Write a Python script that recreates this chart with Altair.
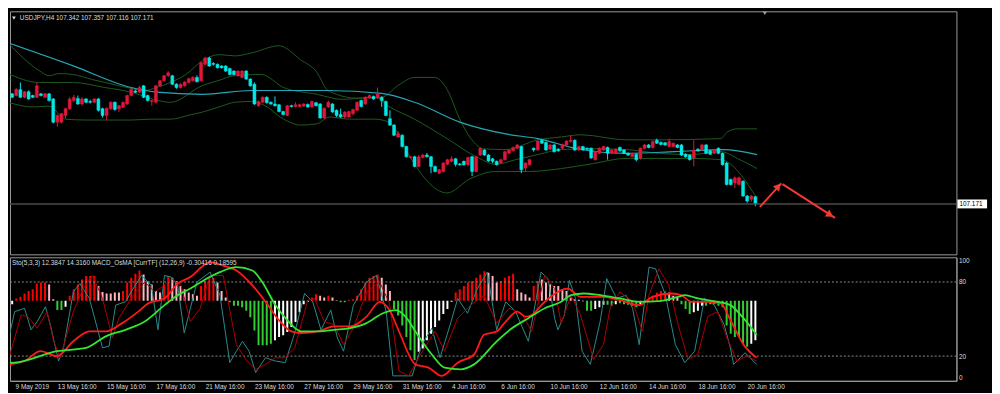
import altair as alt
import pandas as pd

# ---------------- data ----------------
title_main = "USDJPY,H4 107.342 107.357 107.116 107.171"
title_sub = "Sto(5,3,3) 12.3847 14.3160  MACD_OsMA [CurrTF] (12,26,9) -0.30416 0.18595"
last_close = 107.171

price_ticks = [111.62, 111.02, 110.42, 109.82, 109.22, 108.61, 108.01, 107.41, 106.81, 106.21]
sub_ticks = [0, 20, 80, 100]
date_idx = [1.7, 12, 24, 36, 48, 60, 72, 84, 96, 108, 120, 132, 144, 156, 168, 180]
date_lbl = ["9 May 2019", "13 May 16:00", "15 May 16:00", "17 May 16:00", "21 May 16:00",
            "23 May 16:00", "27 May 16:00", "29 May 16:00", "31 May 16:00", "4 Jun 16:00",
            "6 Jun 16:00", "10 Jun 16:00", "12 Jun 16:00", "14 Jun 16:00", "18 Jun 16:00",
            "20 Jun 16:00"]

opens = [
109.74,109.78,109.74,109.88,109.70,109.83,109.74,109.70,109.78,109.70,
109.78,109.66,109.11,109.11,109.27,109.43,109.62,109.67,109.54,109.66,
109.60,109.58,109.66,109.43,109.27,109.43,109.58,109.43,109.46,109.54,
109.74,109.85,109.82,109.97,109.74,109.60,109.58,109.97,110.09,110.21,
110.21,110.01,109.93,109.97,110.05,110.09,110.17,110.09,110.48,110.63,
110.50,110.48,110.44,110.44,110.38,110.32,110.21,110.17,110.32,110.13,
110.01,109.50,109.58,109.70,109.58,109.54,109.52,109.36,109.27,109.50,
109.48,109.48,109.49,109.53,109.47,109.57,109.54,109.21,109.47,109.54,
109.39,109.29,109.23,109.23,109.31,109.39,109.62,109.54,109.68,109.72,
109.68,109.70,109.60,109.19,109.04,108.76,108.80,108.53,108.27,108.29,
108.06,108.27,108.33,108.29,108.06,107.90,107.94,108.11,108.18,108.24,
108.12,108.18,108.10,108.29,107.94,108.33,108.45,108.33,108.24,108.18,
108.14,108.22,108.37,108.43,108.49,108.53,108.02,108.10,108.49,108.45,
108.68,108.63,108.47,108.57,108.47,108.49,108.57,108.65,108.68,108.45,
108.53,108.49,108.49,108.22,108.37,108.45,108.51,108.37,108.37,108.51,
108.45,108.37,108.29,108.35,108.26,108.49,108.57,108.51,108.68,108.63,
108.62,108.53,108.53,108.57,108.57,108.35,108.33,108.26,108.47,108.45,
108.57,108.43,108.37,108.49,108.37,108.14,107.75,107.67,107.63,107.71,
107.36,107.28,107.342]

closes = [
109.82,109.70,109.89,109.70,109.83,109.66,109.70,109.97,109.74,109.78,
109.62,109.11,109.27,109.31,109.43,109.66,109.70,109.54,109.66,109.58,
109.58,109.66,109.39,109.27,109.44,109.58,109.41,109.50,109.58,109.74,
109.89,109.82,109.93,109.70,109.62,109.62,109.97,110.09,110.21,110.28,
110.01,109.93,110.01,110.06,110.14,110.17,110.07,110.52,110.63,110.44,
110.48,110.40,110.40,110.32,110.24,110.24,110.32,110.32,110.13,109.97,
109.54,109.60,109.70,109.57,109.54,109.50,109.36,109.29,109.50,109.48,
109.52,109.52,109.54,109.47,109.60,109.50,109.21,109.44,109.58,109.35,
109.27,109.23,109.35,109.36,109.41,109.58,109.48,109.70,109.74,109.66,
109.78,109.62,109.27,109.04,108.80,108.84,108.53,108.29,108.29,108.06,
108.29,108.33,108.29,108.06,107.94,107.98,108.14,108.22,108.24,108.11,
108.10,108.10,108.27,107.94,108.29,108.49,108.33,108.19,108.18,108.10,
108.22,108.41,108.45,108.51,108.57,107.98,108.14,108.22,108.45,108.66,
108.61,108.45,108.57,108.41,108.43,108.58,108.66,108.68,108.45,108.53,
108.45,108.47,108.26,108.41,108.49,108.53,108.37,108.45,108.47,108.43,
108.37,108.33,108.37,108.22,108.49,108.57,108.51,108.65,108.61,108.58,
108.57,108.65,108.61,108.51,108.33,108.29,108.22,108.45,108.43,108.57,
108.37,108.35,108.45,108.37,108.10,107.63,107.63,107.79,107.79,107.36,
107.24,107.36,107.171]

highs = [
109.84,109.80,109.91,110.05,109.85,109.86,109.76,110.05,109.80,109.80,
109.80,109.68,109.29,109.33,109.45,109.70,109.76,109.74,109.70,109.68,
109.64,109.68,109.68,109.45,109.46,109.60,109.60,109.52,109.60,109.76,
109.92,109.88,109.97,109.99,109.76,109.64,109.99,110.11,110.23,110.32,
110.23,110.03,110.03,110.08,110.16,110.20,110.22,110.54,110.66,110.66,
110.53,110.50,110.46,110.46,110.40,110.34,110.34,110.34,110.34,110.15,
110.05,109.62,109.72,109.72,109.60,109.72,109.54,109.38,109.52,109.52,
109.58,109.54,109.56,109.55,109.62,109.59,109.56,109.46,109.62,109.56,
109.41,109.43,109.37,109.38,109.43,109.60,109.64,109.72,109.76,109.74,
109.93,109.72,109.62,109.39,109.06,108.90,108.82,108.55,108.31,108.31,
108.33,108.36,108.38,108.31,108.08,108.00,108.16,108.24,108.30,108.26,
108.14,108.20,108.29,108.31,108.31,108.51,108.47,108.35,108.26,108.20,
108.24,108.43,108.47,108.53,108.59,108.55,108.16,108.24,108.51,108.68,
108.70,108.65,108.59,108.59,108.49,108.60,108.68,108.80,108.70,108.55,
108.55,108.51,108.51,108.43,108.51,108.55,108.53,108.47,108.49,108.53,
108.47,108.39,108.39,108.37,108.51,108.59,108.59,108.67,108.72,108.65,
108.64,108.72,108.63,108.59,108.59,108.37,108.35,108.68,108.49,108.59,
108.59,108.45,108.47,108.51,108.39,108.16,107.77,107.82,107.82,107.73,
107.38,107.38,107.357]

lows = [
109.72,109.68,109.72,109.68,109.68,109.64,109.68,109.68,109.72,109.68,
109.60,109.08,109.00,109.08,109.20,109.40,109.58,109.52,109.50,109.56,
109.55,109.56,109.36,109.22,109.15,109.40,109.38,109.35,109.44,109.52,
109.72,109.80,109.80,109.68,109.60,109.50,109.55,109.95,110.07,110.19,
109.99,109.90,109.91,109.95,110.03,110.07,110.05,110.07,110.46,110.42,
110.45,110.38,110.38,110.30,110.22,110.22,110.19,110.15,110.11,109.95,
109.52,109.48,109.56,109.55,109.52,109.48,109.34,109.27,109.25,109.46,
109.46,109.46,109.47,109.45,109.45,109.48,109.19,109.19,109.45,109.33,
109.23,109.21,109.19,109.21,109.27,109.37,109.46,109.52,109.66,109.64,
109.66,109.47,109.25,109.02,108.78,108.74,108.51,108.27,108.25,108.04,
108.04,108.25,108.27,107.90,107.92,107.88,107.92,108.09,108.16,108.06,
108.08,108.08,108.06,107.83,107.92,108.31,108.31,108.17,108.14,108.08,
108.12,108.20,108.35,108.41,108.47,107.90,107.94,108.08,108.41,108.43,
108.59,108.43,108.45,108.39,108.41,108.47,108.55,108.63,108.43,108.43,
108.43,108.45,108.24,108.20,108.35,108.43,108.22,108.35,108.35,108.41,
108.35,108.31,108.27,108.18,108.22,108.47,108.49,108.49,108.59,108.56,
108.55,108.51,108.51,108.49,108.31,108.27,108.20,108.06,108.41,108.43,
108.35,108.33,108.35,108.35,108.08,107.61,107.61,107.55,107.61,107.34,
107.20,107.22,107.116]

# moving average (cyan) and Bollinger bands (dark green): bar index, price
ma_i = [0, 15.7, 30, 36.2, 47.4, 59.3, 77.6, 91, 99, 110, 121.2, 129, 138.6, 150.5, 162.4, 174.3, 182.4]
ma_v = [110.99, 110.45, 109.93, 109.82, 109.77, 109.86, 109.86, 109.79, 109.58, 109.11, 108.83,
        108.72, 108.48, 108.37, 108.41, 108.46, 108.34]

bb_up_i = [0, 7.6, 10, 12.4, 15.7, 20.5, 23.6, 30, 33.1, 36.2, 39.5, 43.3, 47.4, 51.4, 55.2, 59.3,
           66, 71.2, 75.2, 77.6, 80, 84.8, 91, 95, 99, 103.8, 106.9, 110, 113.3, 115.7, 121.2, 129,
           134.8, 139.5, 150.5, 158.6, 173.6, 175.2, 177.6, 182.4]
bb_up_v = [110.99, 110.33, 110.21, 110.26, 110.24, 110.12, 110.05, 109.91, 109.86, 109.93, 110.05,
           110.24, 110.57, 110.71, 110.68, 110.75, 110.92, 110.59, 110.29, 109.89, 109.77, 109.68,
           109.70, 109.98, 110.17, 110.17, 109.89, 109.18, 108.65, 108.48, 108.46, 108.69, 108.76,
           108.81, 108.69, 108.69, 108.72, 108.88, 108.95, 108.95]
bb_mid_i = [0, 7.6, 15.7, 23.6, 30, 36.2, 39.5, 47.4, 51.4, 55, 61.7, 67.1, 75.2, 81.4, 89.5, 92.6,
            99, 106.9, 114, 118.8, 123.6, 129, 134.8, 142.6, 150.5, 158.6, 166.4, 173.6, 177.6, 182.4]
bb_mid_v = [110.26, 110.05, 110.05, 109.93, 109.82, 109.63, 109.58, 109.98, 110.10, 110.21, 110.24,
            109.93, 109.77, 109.65, 109.70, 109.49, 109.18, 108.72, 108.29, 108.11, 108.22, 108.34,
            108.46, 108.48, 108.46, 108.37, 108.34, 108.41, 108.25, 108.01]
bb_lo_i = [0, 6, 10, 14, 18.8, 23.6, 30, 34.8, 39.5, 44.3, 47.4, 51.4, 55.2, 59.3, 62.4, 67.1, 71.2,
           75.2, 78.3, 83.1, 89.5, 92.6, 99, 102.1, 106.9, 112.4, 118.8, 126.7, 134.8, 142.6, 150.5,
           158.6, 166.4, 173.6, 182.4]
bb_lo_v = [109.58, 109.47, 109.49, 109.18, 109.16, 109.16, 109.16, 109.18, 109.18, 109.28, 109.35,
           109.47, 109.58, 109.60, 109.51, 109.18, 109.04, 109.07, 109.23, 109.18, 109.18, 109.11,
           108.11, 107.71, 107.43, 107.76, 107.94, 107.94, 108.01, 108.13, 108.25, 108.25, 108.25,
           108.22, 107.30]

# hand-drawn arrows (bar index, price)
arrow1_i = [183.1, 188.3]
arrow1_p = [107.10, 107.66]
arrow2_i = [188.6, 201.4]
arrow2_p = [107.64, 106.84]
head_i = [187.6, 200.2]
head_p = [107.59, 106.91]
head_a = [42, 122]

# OsMA histogram, one value per bar, with its colour code
hist_v = [
-0.017,-0.017,0.012,0.020,0.037,0.050,0.058,0.087,0.092,0.092,
0.083,0.008,-0.047,-0.047,-0.030,0.025,0.058,0.083,0.108,0.125,
0.125,0.125,0.075,0.045,0.037,0.037,0.042,0.042,0.050,0.092,
0.117,0.137,0.153,0.133,0.100,0.083,0.050,0.042,0.083,0.125,
0.117,0.100,0.075,0.058,0.042,0.033,0.025,0.075,0.100,0.117,
0.117,0.092,0.050,0.017,-0.008,-0.025,-0.025,-0.033,-0.050,-0.083,
-0.150,-0.225,-0.225,-0.225,-0.217,-0.200,-0.183,-0.175,-0.158,-0.133,
-0.108,-0.058,-0.017,-0.005,0.017,0.033,0.025,0.017,0.025,0.017,
0.003,-0.008,-0.008,0.005,0.008,0.025,0.058,0.092,0.117,0.125,
0.133,0.117,0.083,0.050,-0.042,-0.075,-0.125,-0.183,-0.250,-0.300,
-0.258,-0.242,-0.200,-0.167,-0.133,-0.100,-0.067,-0.042,-0.005,0.042,
0.058,0.075,0.092,0.100,0.117,0.133,0.150,0.142,0.125,0.092,
0.100,0.117,0.125,0.137,0.058,0.042,0.033,0.017,0.075,0.100,
0.108,0.092,0.083,0.075,0.075,0.058,0.050,0.017,0.008,0.005,
-0.003,-0.050,-0.050,-0.042,-0.033,-0.020,-0.020,-0.025,-0.017,-0.013,
-0.017,-0.020,-0.025,-0.033,-0.017,-0.008,0.008,0.025,0.042,0.050,
0.050,0.042,0.025,0.017,-0.017,-0.042,-0.067,-0.058,-0.050,-0.025,
-0.025,-0.017,-0.017,-0.025,-0.033,-0.125,-0.167,-0.183,-0.183,-0.217,
-0.233,-0.217,-0.200]
hist_c = list(
    "WWRRRRRRRR" "PPGGWRRRRR" "RRPPPPPPRR" "RRRPPPPPRR" "PPPPPPPRRR"
    "RPPPGGGGGG" "GGGGGWWWWW" "WWWWRRPPRP" "PGGRRRRRRR" "RPPPGGGGGG"
    "WWWWWWWWWR" "RRRRRRRPPP" "RRRRPPPPRR" "PPPPPPPPPW" "WGGWWWGGWG"
    "GGGGWWRRRR" "RPPPGGGWWW" "GGGGGGGGGG" "GWW")

# stochastic main (teal) and signal (dark red): bar index, value 0..100
k_i = [0, 1.6, 4, 5.6, 7.1, 9.1, 10.3, 12.3, 13.5, 15.9, 17.5, 19.8, 23, 24.6, 26.2, 28.6, 30.2,
       32.5, 34.9, 36.5, 38.1, 39.7, 41.3, 42.9, 44.4, 46, 49.2, 51.6, 54, 55.6, 57.1, 58.7, 60.3,
       62.7, 65.1, 67.5, 69.8, 72.2, 74.2, 76.2, 78.6, 80.2, 81.7, 84.1, 87.3, 89.7, 92.1, 93.7, 96,
       98.4, 100.8, 103.2, 105.2, 107.9, 109.5, 111.9, 114.3, 116.7, 119, 121.2, 123.6, 126.7,
       129.8, 131.5, 133.1, 133.9, 135.5, 136.7, 138.2, 139.8, 141.8, 144.2, 145.8, 148.2, 150.5,
       152.1, 153.7, 156.1, 157.7, 160.1, 162.5, 164.8, 167.2, 169.6, 172, 174.4, 175.9, 176.7,
       179.5, 182.3]
k_v = [32, 56, 58.7, 41.3, 48, 60, 45.3, 16, 26.7, 72, 78.7, 66.7, 26.7, 28, 61.3, 64, 73.3, 85.3,
       77.3, 41.3, 85.3, 84, 77.3, 38.7, 58.7, 80, 88, 69.3, 14.7, 24, 32, 24, 6.7, 18.7, 16, 14.7,
       38.7, 70.7, 64, 41.3, 57.3, 34.7, 24, 61.3, 80, 85.3, 56, 4, 4, 4, 29.3, 42.7, 18.7, 48, 66.7,
       54.7, 74.7, 88, 41.3, 64, 56, 32, 88, 82.7, 50.7, 41.3, 53.3, 81.3, 66.7, 24, 13.3, 48, 82.7,
       66.7, 69.3, 58.7, 29.3, 92, 90.7, 69.3, 29.3, 14.7, 24, 66.7, 61.3, 45.3, 26.7, 13.3, 22.7,
       13.3]
d_i = [0, 3.2, 4.8, 7.1, 9.5, 11.1, 12.7, 15.9, 18.3, 20.6, 23, 25.4, 27, 30.2, 33.3, 35.7, 38.1,
       39.7, 42.1, 44.4, 46.8, 49.2, 52.4, 55.6, 57.9, 60.3, 62.7, 65.1, 67.5, 69.8, 73, 74.6, 77,
       79.4, 81.7, 84.1, 87.3, 90.5, 92.9, 95.2, 97.6, 100, 102.4, 104, 106.3, 109.5, 112.7, 115.9,
       119, 122, 125.1, 127.5, 130.7, 133.1, 134.7, 137.1, 139.4, 142.6, 145, 146.6, 149, 152.1,
       154.5, 156.1, 158.5, 160.9, 163.2, 165.6, 168, 170.4, 172.8, 175.1, 177.5, 179.9, 182.3]
d_v = [16, 53.3, 52, 42.7, 56, 32, 18.7, 56, 74.7, 85.3, 66.7, 34.7, 50.7, 68, 80, 72, 77.3, 82.7,
       77.3, 48, 58.7, 85.3, 85.3, 29.3, 17.3, 9.3, 13.3, 18.7, 18.7, 26.7, 65.3, 66.7, 48, 45.3,
       29.3, 42.7, 72, 80, 62.7, 8, 4, 18.7, 32, 40, 24, 50.7, 61.3, 69.3, 46.7, 58.7, 54.7, 40,
       85.3, 74.7, 46.7, 69.3, 53.3, 17.3, 29.3, 58.7, 72, 64, 40, 69.3, 90.7, 77.3, 45.3, 17.3,
       21.3, 52, 56, 34.7, 16, 20, 16]
# thick smoothed lines (red, green)
red_i = [0, 4, 7.9, 11.9, 15.9, 19.8, 23.8, 27.8, 31.7, 34.1, 38.1, 41.3, 44.4, 47.6, 49.2, 52.4,
         55.6, 59.5, 62.7, 65.9, 69, 71.4, 75.4, 79.4, 83.3, 87.3, 90.5, 92.9, 95.2, 99.2, 102.4,
         105.6, 109.5, 113.5, 115.9, 119, 121.2, 124, 126, 127.5, 130.7, 136.3, 139.4, 145, 149,
         153.7, 156.9, 161.7, 164, 166.4, 170.4, 173.6, 175.9, 179.1, 182.3]
red_v = [13.3, 16, 24, 20, 32, 40, 40, 46.7, 56, 62.7, 66.7, 78.7, 84, 93.3, 96, 93.3, 89.3, 77.3,
         64, 49.3, 40, 38.7, 40, 44, 44, 52, 64, 57.3, 40, 13.3, 10.7, 4, 14.7, 21.3, 37.3, 40, 48,
         56, 52, 53.3, 64, 74.7, 68, 68, 65.3, 61.3, 68, 70.7, 69.3, 64, 64, 62.7, 49.3, 29.3, 18.7]
green_i = [0, 1.6, 11.9, 19, 23.8, 28.6, 33.3, 38.1, 41.3, 44.4, 47.6, 51.6, 55.6, 59.5, 61.9, 65.1,
           68.3, 71.4, 75.4, 79.4, 83.3, 87.3, 91.3, 94.4, 96.8, 99.2, 103.2, 106.3, 110.3, 113.5,
           119, 122.8, 126.7, 130.7, 134.7, 137.1, 140.2, 144.2, 149, 153.7, 158.5, 163.2, 164.8,
           168, 172.8, 175.9, 179.1, 182.3]
green_v = [14.5, 14.7, 24, 26.7, 36, 41.3, 48, 61.3, 69.3, 74.7, 81.3, 88, 92, 89.3, 80, 61.3, 48,
           40, 40, 41.3, 42.7, 46.7, 54.7, 57.3, 52, 40, 21.3, 10.7, 9.3, 13.3, 32, 42.7, 50.7,
           58.7, 64, 69.3, 70.7, 69.3, 66.7, 64, 64.5, 68, 69.3, 66.7, 64, 61.3, 50.7, 37.3]

n = len(opens)
assert len(closes) == n and len(highs) == n and len(lows) == n
assert len(hist_v) == n and len(hist_c) == n

# ---------------- style ----------------
FONT = "Liberation Sans"
FS = 6.5
TXT = "#dcdcdc"
GRID = "#9a9a9a"
BULL = "#e0173c"
BEAR = "#00e8e8"
BAND = "#1f5a1f"
MA = "#25a7b4"

W = 958
HM = 246
HS = 125
XD = [1.667, 229.76]
PD = [105.976, 111.737]

xs = alt.Scale(domain=XD, nice=False, zero=False)
ps = alt.Scale(domain=PD, nice=False, zero=False)
ss = alt.Scale(domain=[0, 100], nice=False, zero=False)
hs = alt.Scale(domain=[-0.405, 0.22], nice=False, zero=False)
X = alt.X("i:Q", scale=xs, axis=None)

label_expr = "[" + ",".join("'" + s + "'" for s in date_lbl) + "][round(datum.value / 12)]"
date_axis = alt.Axis(values=date_idx, labelExpr=label_expr, labelAlign="left",
                     labelBaseline="top", labelColor=TXT, labelFont=FONT, labelFontSize=FS,
                     ticks=False, labelPadding=3, domainColor=GRID, grid=False, title=None,
                     labelOverlap=False, labelBound=False, labelFlush=False)
XS = alt.X("i:Q", scale=xs, axis=date_axis)


def series(idx, vals, color, width, scale, interp="monotone", xenc=X):
    df = pd.DataFrame({"i": idx, "v": vals})
    return alt.Chart(df).mark_line(clip=True, color=color, strokeWidth=width,
                                   interpolate=interp).encode(
        x=xenc, y=alt.Y("v:Q", scale=scale, axis=None))


# ---------------- main panel ----------------
cdf = pd.DataFrame({"i": list(range(n)), "o": opens, "h": highs, "l": lows, "c": closes})
cdf["d"] = ["up" if c >= o else "dn" for o, c in zip(opens, closes)]
ccol = alt.Scale(domain=["up", "dn"], range=[BULL, BEAR])

price_axis = alt.Axis(orient="right", values=price_ticks, format=".3f", labelColor=TXT,
                      labelFont=FONT, labelFontSize=FS, tickColor=GRID, tickSize=3,
                      domainColor=GRID, labelPadding=1, grid=False, title=None,
                      labelFlush=False, labelOverlap=False)

wicks = alt.Chart(cdf).mark_rule(clip=True, strokeWidth=1).encode(
    x=X, y=alt.Y("l:Q", scale=ps, axis=price_axis), y2="h:Q",
    color=alt.Color("d:N", scale=ccol, legend=None))
bodies = alt.Chart(cdf).mark_bar(clip=True, size=3, strokeWidth=0.5).encode(
    x=X, y=alt.Y("o:Q", scale=ps, axis=None), y2="c:Q",
    color=alt.Color("d:N", scale=ccol, legend=None),
    stroke=alt.Stroke("d:N", scale=ccol, legend=None))

pdf = pd.DataFrame({"p": [last_close], "t": [f"{last_close:.3f}"]})
pline = alt.Chart(pdf).mark_rule(color="#4a4a4a", strokeWidth=1.5).encode(
    y=alt.Y("p:Q", scale=ps, axis=None))
pbox = alt.Chart(pdf).mark_rule(color="#ffffff", strokeWidth=9).encode(
    y=alt.Y("p:Q", scale=ps, axis=None), x=alt.value(W + 1), x2=alt.value(W + 31))
ptext = alt.Chart(pdf).mark_text(align="left", baseline="middle", color="#000000",
                                 font=FONT, fontSize=FS).encode(
    y=alt.Y("p:Q", scale=ps, axis=None), x=alt.value(W + 3), text="t:N")

a1 = alt.Chart(pd.DataFrame({"i": arrow1_i, "p": arrow1_p})).mark_line(
    color="#f23a32", strokeWidth=2).encode(x=X, y=alt.Y("p:Q", scale=ps, axis=None))
a2 = alt.Chart(pd.DataFrame({"i": arrow2_i, "p": arrow2_p})).mark_line(
    color="#f23a32", strokeWidth=2).encode(x=X, y=alt.Y("p:Q", scale=ps, axis=None))
heads = alt.Chart(pd.DataFrame({"i": head_i, "p": head_p, "a": head_a})).mark_point(
    shape="triangle-up", filled=True, size=70, color="#f23a32", opacity=1).encode(
    x=X, y=alt.Y("p:Q", scale=ps, axis=None), angle=alt.Angle("a:Q", scale=None))

ttl = alt.Chart(pd.DataFrame({"t": [title_main]})).mark_text(
    align="left", baseline="middle", color=TXT, font=FONT, fontSize=FS).encode(
    x=alt.value(10), y=alt.value(7), text="t:N")
icon = alt.Chart(pd.DataFrame({"t": [1]})).mark_point(
    shape="triangle-down", filled=True, size=14, color=TXT, opacity=1).encode(
    x=alt.value(4), y=alt.value(7))
shift = alt.Chart(pd.DataFrame({"i": [184.3]})).mark_point(
    shape="triangle-down", filled=True, size=18, color="#a0a0a0", opacity=1).encode(
    x=X, y=alt.value(2))

main = alt.layer(
    series(bb_up_i, bb_up_v, BAND, 1, ps),
    series(bb_mid_i, bb_mid_v, BAND, 1, ps),
    series(bb_lo_i, bb_lo_v, BAND, 1, ps),
    series(ma_i, ma_v, MA, 1.2, ps),
    wicks, bodies, pline, pbox, ptext, a1, a2, heads, ttl, icon, shift,
).properties(width=W, height=HM)

# ---------------- sub panel ----------------
hdf = pd.DataFrame({"i": list(range(n)), "v": hist_v, "k": hist_c})
hist = alt.Chart(hdf).mark_bar(clip=True, size=2).encode(
    x=XS, y=alt.Y("v:Q", scale=hs, axis=None), y2=alt.datum(0),
    color=alt.Color("k:N", scale=alt.Scale(domain=["R", "P", "G", "W"],
                                           range=["#ff0000", "#ffb6c1", "#32cd32", "#ffffff"]),
                    legend=None))

sub_axis = alt.Axis(orient="right", values=sub_ticks, labelColor=TXT, labelFont=FONT,
                    labelFontSize=FS, ticks=False, domainColor=GRID, labelPadding=2,
                    labelFlush=True, grid=False, title=None, labelOverlap=False)
levels = alt.Chart(pd.DataFrame({"v": [20, 80]})).mark_rule(
    color="#8a8a8a", strokeDash=[2, 2], strokeWidth=1).encode(
    y=alt.Y("v:Q", scale=ss, axis=sub_axis))

sttl = alt.Chart(pd.DataFrame({"t": [title_sub]})).mark_text(
    align="left", baseline="middle", color=TXT, font=FONT, fontSize=FS).encode(
    x=alt.value(2), y=alt.value(6), text="t:N")

sub = alt.layer(
    hist,
    levels,
    series(k_i, k_v, "#2a8c8c", 1, ss, "linear", XS),
    series(d_i, d_v, "#b00000", 1, ss, "linear", XS),
    series(red_i, red_v, "#ff1a1a", 1.8, ss, "monotone", XS),
    series(green_i, green_v, "#33e633", 1.8, ss, "monotone", XS),
    sttl,
).resolve_scale(y="independent").properties(width=W, height=HS)

chart = alt.vconcat(main, sub, spacing=1).resolve_scale(
    color="independent", stroke="independent").properties(padding=0).configure(
    background="#000000").configure_view(stroke=GRID, strokeWidth=1)

chart.save("out.html", embed_options={"renderer": "svg", "actions": False})
